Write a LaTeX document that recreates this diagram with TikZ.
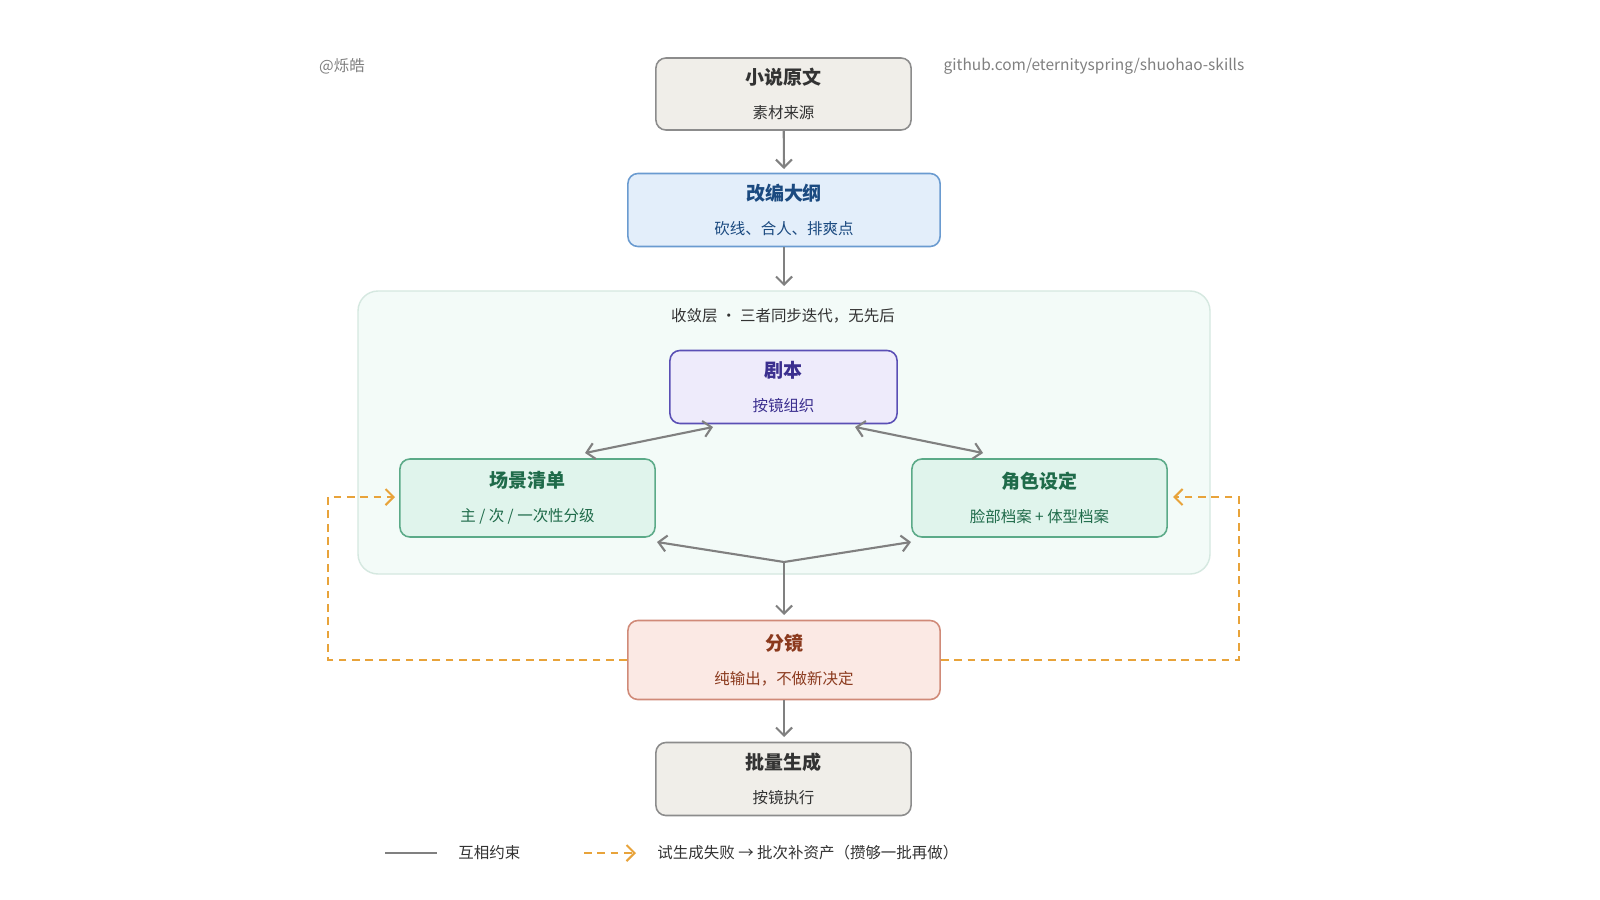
\documentclass[tikz,border=0pt]{standalone}
\usepackage{fontspec}
\setmainfont{Noto Sans CJK SC}
\usetikzlibrary{arrows.meta}
\definecolor{gfill}{HTML}{F0EEE9}\definecolor{gdraw}{HTML}{8C8C8C}\definecolor{gtext}{HTML}{333333}
\definecolor{bfill}{HTML}{E3EEFA}\definecolor{bdraw}{HTML}{6A9BD0}\definecolor{btext}{HTML}{1B4A80}
\definecolor{pfill}{HTML}{EEEBFB}\definecolor{pdraw}{HTML}{5A4FB5}\definecolor{ptext}{HTML}{3B2F8F}
\definecolor{efill}{HTML}{E0F4EC}\definecolor{edraw}{HTML}{5BAA88}\definecolor{etext}{HTML}{1F6B4A}
\definecolor{rfill}{HTML}{FBE9E4}\definecolor{rdraw}{HTML}{D08A78}\definecolor{rtext}{HTML}{8B3A1E}
\definecolor{orng}{HTML}{E8A33A}\definecolor{conn}{HTML}{808080}
\definecolor{grpf}{HTML}{F3FBF8}\definecolor{grpd}{HTML}{D5E8E0}
\newcommand{\ttl}[1]{{\fontsize{5.4pt}{6pt}\selectfont\bfseries #1}}
\newcommand{\sbt}[1]{{\fontsize{4.4pt}{5pt}\selectfont #1}}
\begin{document}
\begin{tikzpicture}[x=0.01cm,y=-0.01cm,
 box/.style={draw, rounded corners=0.1cm, line width=0.45pt, align=center, inner sep=0pt, font=\fontsize{4.4pt}{5pt}\selectfont},
 con/.style={conn, line width=0.6pt, -{Straight Barb[length=0.8mm,width=1.6mm]}},
 bcon/.style={conn, line width=0.6pt, {Straight Barb[length=0.8mm,width=1.6mm]}-{Straight Barb[length=0.8mm,width=1.6mm]}},
 dcon/.style={orng, line width=0.6pt, dash pattern=on 2.2pt off 1.6pt, -{Straight Barb[length=0.8mm,width=1.6mm]}}]
\useasboundingbox (0,0) rectangle (1600,900);
\fill[white] (0,0) rectangle (1600,900);
\draw[fill=grpf, draw=grpd, rounded corners=0.2cm, line width=0.4pt] (358,291) rectangle (1210,574);
\node[text=gtext] (gt) at (783,316) {\sbt{收敛层 · 三者同步迭代，无先后}};
\node[text=gray] (au) at (342,66) {\sbt{@烁皓}};
\node[text=gray] (gh) at (1094,66) {\sbt{github.com/eternityspring/shuohao-skills}};
\node[box, fill=gfill, draw=gdraw, text=gtext, minimum width=2.55cm, minimum height=0.72cm] (src) at (783.5,94) {\ttl{小说原文}\\[1.6mm]\sbt{素材来源}};
\node[box, fill=bfill, draw=bdraw, text=btext, minimum width=3.12cm, minimum height=0.73cm] (out) at (784,210) {\ttl{改编大纲}\\[1.6mm]\sbt{砍线、合人、排爽点}};
\node[box, fill=pfill, draw=pdraw, text=ptext, minimum width=2.27cm, minimum height=0.73cm] (scr) at (783.5,387) {\ttl{剧本}\\[1.6mm]\sbt{按镜组织}};
\node[box, fill=efill, draw=edraw, text=etext, minimum width=2.55cm, minimum height=0.78cm] (scn) at (527.5,498) {\ttl{场景清单}\\[1.6mm]\sbt{主 / 次 / 一次性分级}};
\node[box, fill=efill, draw=edraw, text=etext, minimum width=2.55cm, minimum height=0.78cm] (chr) at (1039.5,498) {\ttl{角色设定}\\[1.6mm]\sbt{脸部档案 + 体型档案}};
\node[box, fill=rfill, draw=rdraw, text=rtext, minimum width=3.12cm, minimum height=0.79cm] (sb) at (784,660) {\ttl{分镜}\\[1.6mm]\sbt{纯输出，不做新决定}};
\node[box, fill=gfill, draw=gdraw, text=gtext, minimum width=2.55cm, minimum height=0.73cm] (gen) at (783.5,779) {\ttl{批量生成}\\[1.6mm]\sbt{按镜执行}};
\coordinate (m) at (784,562);
\draw[con] (src) -- (784,169);
\draw[con] (out) -- (784,286);
\draw[bcon] (713,427) -- (585,453);
\draw[bcon] (855,427) -- (983,453);
\draw[bcon] (657,542) -- (m) -- (911,542);
\draw[con] (m) -- (784,615);
\draw[con] (sb) -- (784,737);
\draw[dcon] (sb.west) -- (328,660) -- (328,497) -- (395,497);
\draw[dcon] (sb.east) -- (1239,660) -- (1239,497) -- (1173,497);
\coordinate (l1) at (385,853); \coordinate (l2) at (437,853);
\draw[conn, line width=0.6pt] (l1) -- (l2);
\node[text=gtext, anchor=west] (lt1) at (446,853) {\sbt{互相约束}};
\coordinate (l3) at (584,853); \coordinate (l4) at (636,853);
\draw[dcon] (l3) -- (l4);
\node[text=gtext, anchor=west] (lt2) at (645,853) {\sbt{试生成失败 → 批次补资产（攒够一批再做）}};
\end{tikzpicture}
\end{document}
